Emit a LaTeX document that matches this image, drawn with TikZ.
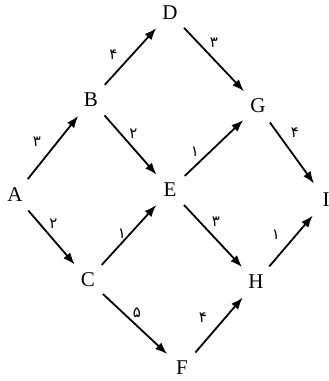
\documentclass[tikz,border=0pt]{standalone}
\usepackage{fontspec}
\setmainfont{Liberation Serif}
\newfontfamily\farsifont[Script=Arabic]{DejaVu Sans}
\usetikzlibrary{arrows.meta}

\begin{document}
\begin{tikzpicture}[x=0.5pt, y=-0.5pt,
        vertex/.style={circle, minimum size=20pt, inner sep=0pt, font=\fontsize{10.5}{12}\selectfont},
        arrow/.style={-{Latex[length=6pt, width=4.5pt]}, line width=0.9pt},
        weight/.style={midway, inner sep=0pt, font=\farsifont\fontsize{7.5}{8}\selectfont}]
        \useasboundingbox (0,0) rectangle (328,381);

        \node[vertex] (a) at (15,195) {A};
        \node[vertex] (b) at (91,100) {B};
        \node[vertex] (c) at (88,280) {C};
        \node[vertex] (d) at (170,13) {D};
        \node[vertex] (e) at (170,190) {E};
        \node[vertex] (f) at (182,368) {F};
        \node[vertex] (g) at (258,106) {G};
        \node[vertex] (h) at (256,282) {H};
        \node[vertex] (i) at (326,200) {I};

        \draw[arrow] (a) -- node[weight, shift={(-16,-6)}] {۳} (b);
        \draw[arrow] (a) -- node[weight, shift={(2,-14)}] {۲} (c);
        \draw[arrow] (b) -- node[weight, shift={(-17,-2)}] {۴} (d);
        \draw[arrow] (b) -- node[weight, shift={(3,-11)}] {۲} (e);
        \draw[arrow] (c) -- node[weight, shift={(-7,-1)}] {۱} (e);
        \draw[arrow] (c) -- node[weight, shift={(2,-11)}] {۵} (f);
        \draw[arrow] (d) -- node[weight, shift={(0,-17)}] {۳} (g);
        \draw[arrow] (e) -- node[weight, shift={(-19,4)}] {۱} (g);
        \draw[arrow] (e) -- node[weight, shift={(3,-14)}] {۳} (h);
        \draw[arrow] (f) -- node[weight, shift={(-16,-7)}] {۴} (h);
        \draw[arrow] (g) -- node[weight, shift={(3,-20)}] {۴} (i);
        \draw[arrow] (h) -- node[weight, shift={(-15,-6)}] {۱} (i);
    \end{tikzpicture}
\end{document}
